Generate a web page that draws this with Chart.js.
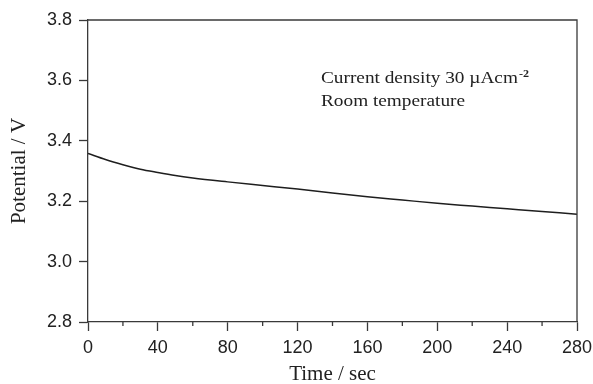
<!DOCTYPE html>
<html>
<head>
<meta charset="utf-8">
<script src="https://cdn.jsdelivr.net/npm/chart.js@4"></script>
<style>
  html, body { margin: 0; padding: 0; background: #fff; }
  #wrap { width: 593px; height: 384px; }
</style>
</head>
<body>
<div id="wrap"><canvas id="chart" width="593" height="384"></canvas></div>
<script>
// values
var times = [0, 10, 20, 30, 40, 50, 60, 80, 100, 120, 140, 160, 180, 200, 220, 240, 260, 280];
var potential = [3.358, 3.338, 3.321, 3.306, 3.295, 3.285, 3.277, 3.264, 3.252, 3.240, 3.227, 3.215, 3.204, 3.193, 3.184, 3.175, 3.166, 3.157];
var xTicks = [0, 40, 80, 120, 160, 200, 240, 280];
var yTicks = [2.8, 3.0, 3.2, 3.4, 3.6, 3.8];
var notes = ['Current density 30 \u00b5Acm', 'Room temperature'];

var axisColor = '#3a3a3a';

var points = times.map(function (t, i) {
    return { x: t, y: potential[i] };
});

// frame on top/right, short minor ticks on the time axis, and the note text
var framePlugin = {
    id: 'frame',
    afterDraw: function (chart) {
        var ctx = chart.ctx;
        var a = chart.chartArea;
        var xs = chart.scales.x;
        ctx.save();
        ctx.strokeStyle = axisColor;
        ctx.lineWidth = 1.3;
        ctx.beginPath();
        ctx.moveTo(a.left, a.top);
        ctx.lineTo(a.right, a.top);
        ctx.lineTo(a.right, a.bottom);
        ctx.stroke();
        xs.ticks.forEach(function (tk) {
            if (tk.value % 40 !== 0) {
                var px = xs.getPixelForValue(tk.value);
                ctx.beginPath();
                ctx.moveTo(px, a.bottom);
                ctx.lineTo(px, a.bottom + 4);
                ctx.stroke();
            }
        });

        // note text, stretched a little to look like the wide mincho face
        ctx.fillStyle = '#222';
        ctx.textBaseline = 'alphabetic';
        ctx.font = '16px "Liberation Serif"';
        var stretch = 144 / ctx.measureText(notes[1]).width;
        ctx.translate(321, 0);
        ctx.scale(stretch, 1);
        ctx.fillText(notes[0], 0, 83);
        var w = ctx.measureText(notes[0]).width;
        ctx.font = 'bold 10px "Liberation Serif"';
        ctx.fillText('-2', w + 1, 77);
        ctx.font = '16px "Liberation Serif"';
        ctx.fillText(notes[1], 0, 106);
        ctx.restore();
    }
};

var ctx = document.getElementById('chart');
var chart = new Chart(ctx, {
    type: 'line',
    data: {
        datasets: [{
            data: points,
            borderColor: '#1e1e1e',
            borderWidth: 1.5,
            pointRadius: 0,
            cubicInterpolationMode: 'monotone',
            fill: false
        }]
    },
    options: {
        responsive: false,
        animation: false,
        layout: { padding: { left: 0, right: 16, top: 20, bottom: 0 } },
        plugins: {
            legend: { display: false },
            tooltip: { enabled: false }
        },
        scales: {
            x: {
                type: 'linear',
                min: 0,
                max: 280,
                afterFit: function (scale) {
                    scale.height = 62;
                    scale.paddingLeft = 0;
                    scale.paddingRight = 0;
                },
                afterBuildTicks: function (scale) {
                    var t = [];
                    for (var v = 0; v <= 280; v += 20) t.push({ value: v });
                    scale.ticks = t;
                },
                border: { display: true, color: axisColor, width: 1.3 },
                grid: {
                    drawOnChartArea: false,
                    tickLength: 9,
                    tickWidth: 1.3,
                    tickColor: function (c) {
                        return c.tick && c.tick.value % 40 === 0 ? axisColor : 'rgba(0,0,0,0)';
                    }
                },
                ticks: {
                    padding: 6,
                    color: '#222',
                    maxRotation: 0,
                    autoSkip: false,
                    font: { family: '"Liberation Sans"', size: 18 },
                    callback: function (v) {
                        return xTicks.indexOf(v) >= 0 ? String(v) : '';
                    }
                },
                title: {
                    display: true,
                    text: 'Time / sec',
                    color: '#222',
                    font: { family: '"Liberation Serif"', size: 21, lineHeight: 1 },
                    padding: { top: 0, bottom: -1 }
                }
            },
            y: {
                type: 'linear',
                min: 2.8,
                max: 3.8,
                afterFit: function (scale) {
                    scale.width = 88;
                    scale.paddingTop = 0;
                    scale.paddingBottom = 0;
                },
                afterBuildTicks: function (scale) {
                    scale.ticks = yTicks.map(function (v) { return { value: v }; });
                },
                border: { display: true, color: axisColor, width: 1.3 },
                grid: {
                    drawOnChartArea: false,
                    tickLength: 9,
                    tickWidth: 1.3,
                    tickColor: axisColor
                },
                ticks: {
                    padding: 7,
                    color: '#222',
                    font: { family: '"Liberation Sans"', size: 18 },
                    callback: function (v) { return v.toFixed(1); }
                },
                title: {
                    display: true,
                    text: 'Potential / V',
                    color: '#222',
                    font: { family: '"Liberation Serif"', size: 21, lineHeight: 1 },
                    padding: { top: 9, bottom: 0 }
                }
            }
        }
    },
    plugins: [framePlugin]
});
</script>
</body>
</html>
